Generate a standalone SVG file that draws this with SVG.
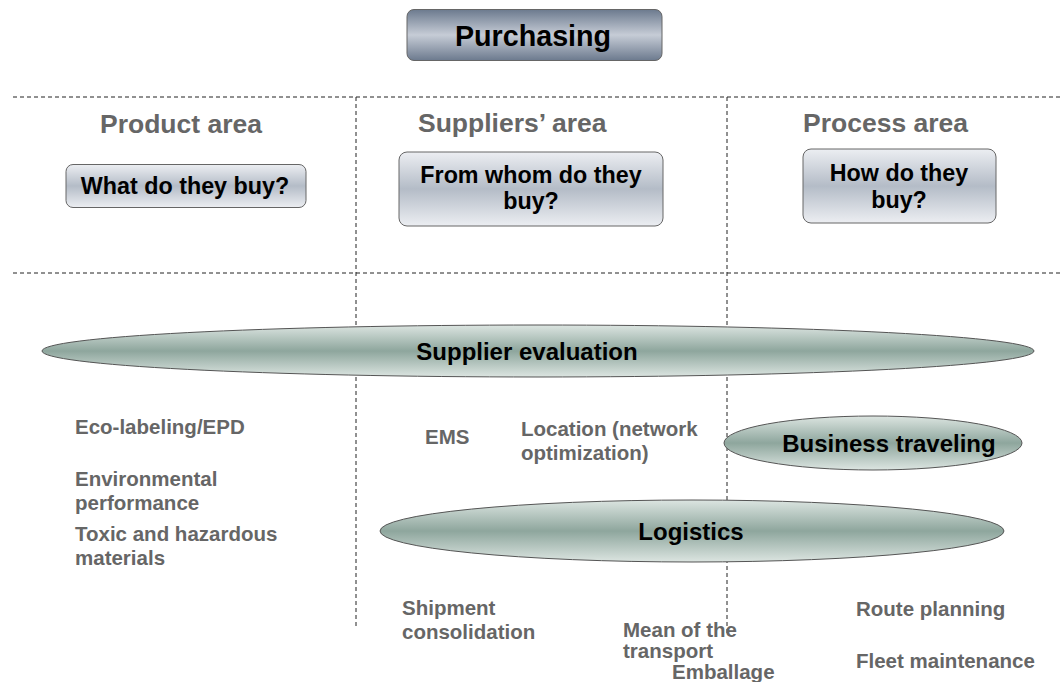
<svg xmlns="http://www.w3.org/2000/svg" width="1062" height="682" viewBox="0 0 1062 682">
<defs>
<linearGradient id="gDark" x1="0" y1="0" x2="0" y2="1">
<stop offset="0" stop-color="#6c7a8e"/><stop offset="0.5" stop-color="#c6ccd6"/><stop offset="1" stop-color="#6c7a8e"/>
</linearGradient>
<linearGradient id="gLight" x1="0" y1="0" x2="0" y2="1">
<stop offset="0" stop-color="#eceef2"/><stop offset="0.5" stop-color="#b4bcc7"/><stop offset="1" stop-color="#eceef2"/>
</linearGradient>
<linearGradient id="gEll" x1="0" y1="0" x2="0" y2="1">
<stop offset="0" stop-color="#dce5e1"/><stop offset="0.5" stop-color="#8ea69d"/><stop offset="1" stop-color="#dce5e1"/>
</linearGradient>
<style>
.dash{stroke:#222;stroke-width:1;stroke-dasharray:4 3;fill:none}
.box{stroke:#666;stroke-width:1}
.ell{fill:url(#gEll);stroke:#555;stroke-width:1}
.t{font-family:"Liberation Sans",Arial,sans-serif;font-weight:bold}
.hdr{font-size:26.5px;fill:#666}
.q{font-size:23.3px;fill:#000;text-anchor:middle}
.el{font-size:24px;fill:#000;text-anchor:middle}
.it{font-size:20.5px;fill:#666}
</style>
</defs>
<g id="connectors">
<line class="dash" x1="13" y1="97" x2="1062" y2="97"/>
<line class="dash" x1="13" y1="273" x2="1062" y2="273"/>
<line class="dash" x1="356" y1="97" x2="356" y2="628"/>
<line class="dash" x1="727" y1="97" x2="727" y2="635"/>
</g>
<g id="purchasing">
<rect class="box" x="407" y="9.5" width="255" height="51" rx="7" fill="url(#gDark)"/>
<text class="t" x="533" y="46" font-size="28.7" text-anchor="middle" fill="#000">Purchasing</text>
</g>
<g id="headers">
<text class="t hdr" x="100" y="133">Product area</text>
<text class="t hdr" x="418" y="132">Suppliers’ area</text>
<text class="t hdr" x="803" y="132">Process area</text>
</g>
<g id="q-what">
<rect class="box" x="66" y="164.5" width="240" height="43" rx="7" fill="url(#gLight)"/>
<text class="t q" x="185" y="194">What do they buy?</text>
</g>
<g id="q-whom">
<rect class="box" x="399" y="152" width="264" height="74" rx="8" fill="url(#gLight)"/>
<text class="t q" x="531" y="183">From whom do they</text>
<text class="t q" x="531" y="209">buy?</text>
</g>
<g id="q-how">
<rect class="box" x="803" y="149" width="193" height="74" rx="8" fill="url(#gLight)"/>
<text class="t q" x="899" y="181">How do they</text>
<text class="t q" x="899" y="208">buy?</text>
</g>
<g id="supplier-evaluation">
<ellipse class="ell" cx="538" cy="351" rx="496" ry="26"/>
<text class="t el" x="527" y="360">Supplier evaluation</text>
</g>
<g id="business-traveling">
<ellipse class="ell" cx="873" cy="443" rx="149" ry="27"/>
<text class="t el" x="889" y="452">Business traveling</text>
</g>
<g id="logistics">
<ellipse class="ell" cx="692" cy="531" rx="312" ry="31"/>
<text class="t el" x="691" y="540">Logistics</text>
</g>
<g id="items">
<text class="t it" x="75" y="434">Eco-labeling/EPD</text>
<text class="t it" x="75" y="486">Environmental</text>
<text class="t it" x="75" y="510">performance</text>
<text class="t it" x="75" y="541">Toxic and hazardous</text>
<text class="t it" x="75" y="565">materials</text>
<text class="t it" x="425" y="444">EMS</text>
<text class="t it" x="521" y="436">Location (network</text>
<text class="t it" x="521" y="460">optimization)</text>
<text class="t it" x="402" y="615">Shipment</text>
<text class="t it" x="402" y="639">consolidation</text>
<text class="t it" x="623" y="637">Mean of the</text>
<text class="t it" x="623" y="658">transport</text>
<text class="t it" x="672" y="679">Emballage</text>
<text class="t it" x="856" y="616">Route planning</text>
<text class="t it" x="856" y="668">Fleet maintenance</text>
</g>
</svg>
